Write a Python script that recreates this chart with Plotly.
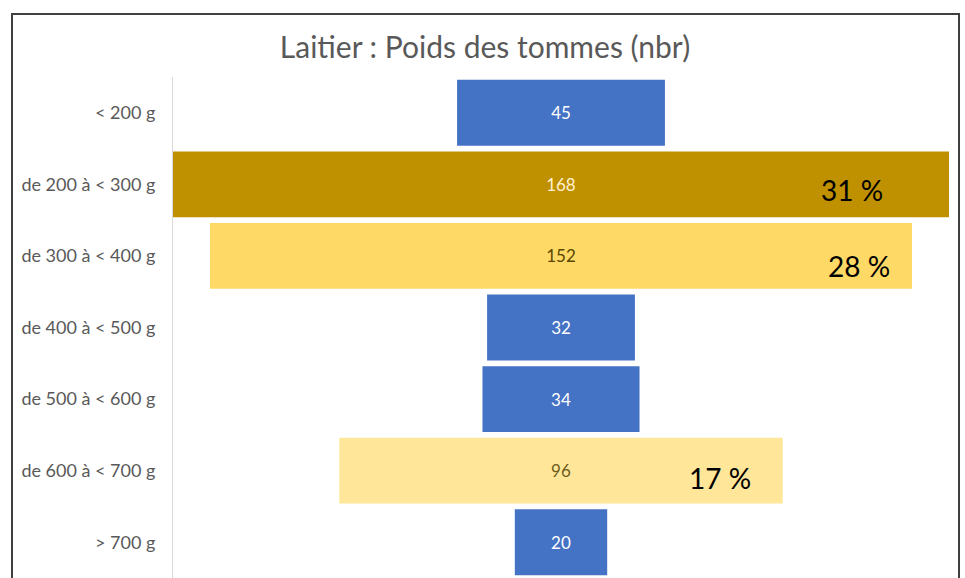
import plotly.graph_objects as go

# ---- data ----
categories = ["< 200 g", "de 200 à < 300 g", "de 300 à < 400 g", "de 400 à < 500 g",
              "de 500 à < 600 g", "de 600 à < 700 g", "> 700 g"]
counts = [45, 168, 152, 32, 34, 96, 20]
pct_labels = ["31 %", "28 %", "17 %"]
pct_categories = ["de 200 à < 300 g", "de 300 à < 400 g", "de 600 à < 700 g"]
title_text = "Laitier : Poids des tommes (nbr)"

# ---- styles ----
bar_colors = ["#4472C4", "#BF9000", "#FFD966", "#4472C4", "#4472C4", "#FFE699", "#4472C4"]
text_colors = ["#FFFFFF", "#FFF2CC", "#5A4600", "#FFFFFF", "#FFFFFF", "#6E5E1E", "#FFFFFF"]
FONT = "Lato, Open Sans, sans-serif"

W, H = 965, 578
L, R, T, B = 173, 16, 77, 0
pw, ph = W - L - R, H - T - B

fig = go.Figure(go.Funnel(
    y=categories,
    x=counts,
    marker=dict(color=bar_colors, line=dict(width=0)),
    connector=dict(visible=False),
    textinfo="value",
    textposition="inside",
    insidetextanchor="middle",
    textfont=dict(family=FONT, size=17, color=text_colors),
    hoverinfo="y+x",
))

maxv = max(counts)
pct_offsets = {"31 %": 21, "28 %": 11.5, "17 %": 13.5}
pct_yshift = {"31 %": -6, "28 %": -10, "17 %": -7}
annotations = []
for lab, cat in zip(pct_labels, pct_categories):
    v = counts[categories.index(cat)]
    annotations.append(dict(
        x=v / 2 - pct_offsets[lab], y=cat, xref="x", yref="y",
        text=lab, showarrow=False, yshift=pct_yshift[lab],
        font=dict(family=FONT, size=28, color="#000000"),
    ))


def px_x(p):
    return (p - L) / pw


def px_y(p):
    return (H - B - p) / ph


fig.update_layout(
    width=W, height=H,
    margin=dict(l=L, r=R, t=T, b=B, pad=0),
    paper_bgcolor="#FFFFFF",
    plot_bgcolor="#FFFFFF",
    funnelgap=0.08,
    showlegend=False,
    title=dict(text=title_text, x=485 / W, xanchor="center",
               y=1 - 47 / H, yanchor="middle",
               font=dict(family=FONT, size=30, color="#595959")),
    xaxis=dict(visible=False, range=[-maxv / 2, maxv / 2], fixedrange=True),
    yaxis=dict(
        showline=True, linecolor="#D9D9D9", linewidth=1,
        ticks="", ticklabelstandoff=13,
        tickfont=dict(family=FONT, size=18, color="#595959"),
        showgrid=False, zeroline=False,
    ),
    annotations=annotations,
    shapes=[dict(type="rect", xref="paper", yref="paper",
                 x0=px_x(12), x1=px_x(959), y0=px_y(600), y1=px_y(14),
                 line=dict(color="#404040", width=2), fillcolor="rgba(0,0,0,0)",
                 layer="above")],
)

fig.write_html("out.html",
               config={"displayModeBar": False},
               post_script="document.body.style.margin='0';document.body.style.overflow='hidden';")
